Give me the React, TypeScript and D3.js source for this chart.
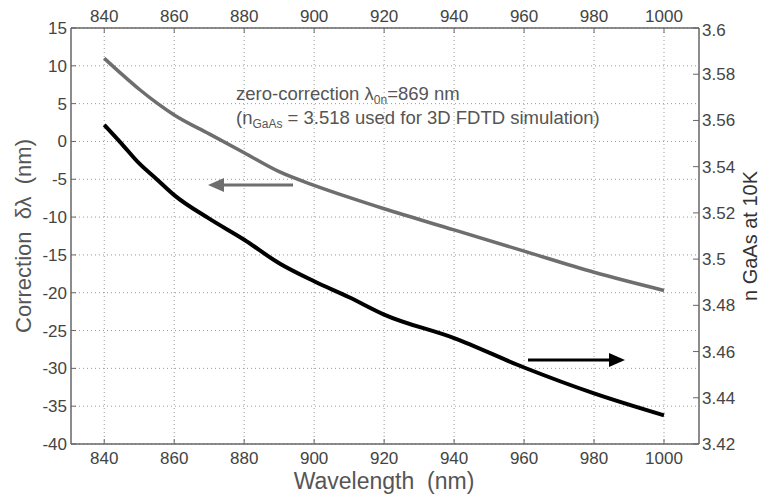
import React from "react";
import * as d3 from "d3";

const wavelengths = [840, 845, 850, 855, 860, 870, 880, 890, 900, 910, 920, 940, 960, 980, 1000];
const correction = [11, 8.9, 6.9, 5.1, 3.5, 1.0, -1.5, -4.0, -5.8, -7.4, -8.9, -11.7, -14.5, -17.3, -19.7];
const nGaAs = [3.5581, 3.5499, 3.5414, 3.5346, 3.5277, 3.5175, 3.5084, 3.4982, 3.4904, 3.4835, 3.476, 3.4658, 3.4531, 3.4419, 3.4324];
const xTicks = [840, 860, 880, 900, 920, 940, 960, 980, 1000];
const leftTicks = [15, 10, 5, 0, -5, -10, -15, -20, -25, -30, -35, -40];
const rightTicks = [3.42, 3.44, 3.46, 3.48, 3.5, 3.52, 3.54, 3.56, 3.58, 3.6];

const W = 762, H = 495;
const L = 71, R = 699, T = 28, B = 444;
const FONT = "Liberation Sans, Arial, sans-serif";

export default function App() {
  const x = d3.scaleLinear().domain([830.5, 1010]).range([L, R]);
  const yL = d3.scaleLinear().domain([-40, 15]).range([B, T]);
  const yR = d3.scaleLinear().domain([3.42, 3.6]).range([B, T]);
  const lineL = d3.line<number>().x((_, i) => x(wavelengths[i])).y(d => yL(d)).curve(d3.curveMonotoneX);
  const lineR = d3.line<number>().x((_, i) => x(wavelengths[i])).y(d => yR(d)).curve(d3.curveMonotoneX);
  const tickCol = "#444";
  const axisCol = "#666";
  return (
    <svg width={W} height={H} style={{ position: "absolute", left: 0, top: 0, background: "#fff" }}>
      <rect x={0} y={0} width={W} height={H} fill="#fff" />
      {/* grid */}
      {xTicks.map(t => (
        <line key={"gx" + t} x1={x(t)} x2={x(t)} y1={T} y2={B} stroke="#999" strokeWidth={1} strokeDasharray="1,3" />
      ))}
      {leftTicks.map(t => (
        <line key={"gy" + t} x1={L} x2={R} y1={yL(t)} y2={yL(t)} stroke="#999" strokeWidth={1} strokeDasharray="1,3" />
      ))}
      {/* axes box */}
      <line x1={L} x2={R} y1={T} y2={T} stroke={axisCol} strokeWidth={1.5} />
      <line x1={L} x2={R} y1={B} y2={B} stroke={axisCol} strokeWidth={1.5} />
      <line x1={L} x2={L} y1={T} y2={B} stroke={axisCol} strokeWidth={1.5} />
      <line x1={R} x2={R} y1={T} y2={B} stroke={axisCol} strokeWidth={1.5} />
      {/* ticks */}
      {xTicks.map(t => (
        <g key={"tx" + t}>
          <line x1={x(t)} x2={x(t)} y1={T} y2={T + 5} stroke={axisCol} strokeWidth={1} />
          <line x1={x(t)} x2={x(t)} y1={B} y2={B - 5} stroke={axisCol} strokeWidth={1} />
          <text x={x(t)} y={22} textAnchor="middle" fontFamily={FONT} fontSize={17} fill={tickCol}>{t}</text>
          <text x={x(t)} y={464} textAnchor="middle" fontFamily={FONT} fontSize={17} fill={tickCol}>{t}</text>
        </g>
      ))}
      {leftTicks.map(t => (
        <g key={"tl" + t}>
          <line x1={L} x2={L + 5} y1={yL(t)} y2={yL(t)} stroke={axisCol} strokeWidth={1} />
          <text x={L - 4} y={yL(t) + 6} textAnchor="end" fontFamily={FONT} fontSize={17} fill={tickCol}>{t}</text>
        </g>
      ))}
      {rightTicks.map(t => (
        <g key={"tr" + t}>
          <line x1={R} x2={R - 6} y1={yR(t)} y2={yR(t)} stroke={axisCol} strokeWidth={1} />
          <text x={R + 3} y={yR(t) + 6 + (t === 3.6 ? 2 : 0)} textAnchor="start" fontFamily={FONT} fontSize={17} fill={tickCol}>{d3.format("")(t)}</text>
        </g>
      ))}
      {/* curves */}
      <path d={lineL(correction) || ""} fill="none" stroke="#6e6e6e" strokeWidth={3.5} />
      <path d={lineR(nGaAs) || ""} fill="none" stroke="#000" strokeWidth={4} />
      {/* arrows */}
      <line x1={293} x2={222} y1={185} y2={185} stroke="#6e6e6e" strokeWidth={3} />
      <polygon points="208,185 224,178 224,192" fill="#6e6e6e" />
      <line x1={528} x2={610} y1={360} y2={360} stroke="#000" strokeWidth={3} />
      <polygon points="625,360 609,353 609,367" fill="#000" />
      {/* annotation */}
      <text x={236} y={100} fontFamily={FONT} fontSize={18.5} fill="#555">
        zero-correction λ<tspan dy={4} fontSize={12}>0n</tspan><tspan dy={-4}>=869 nm</tspan>
      </text>
      <text x={236} y={124} fontFamily={FONT} fontSize={18.5} fill="#555">
        (n<tspan dy={4} fontSize={12}>GaAs</tspan><tspan dy={-4}> = 3.518 used for 3D FDTD simulation)</tspan>
      </text>
      {/* axis labels */}
      <text x={384} y={489} textAnchor="middle" fontFamily={FONT} fontSize={23} fill="#555" xmlSpace="preserve">Wavelength  (nm)</text>
      <text transform={`translate(31,${(T + B) / 2}) rotate(-90)`} textAnchor="middle" fontFamily={FONT} fontSize={22} fill="#555" xmlSpace="preserve">Correction  δλ  (nm)</text>
      <text transform={`translate(757,${(T + B) / 2}) rotate(-90)`} textAnchor="middle" fontFamily={FONT} fontSize={20} fill="#333">n GaAs at 10K</text>
    </svg>
  );
}
